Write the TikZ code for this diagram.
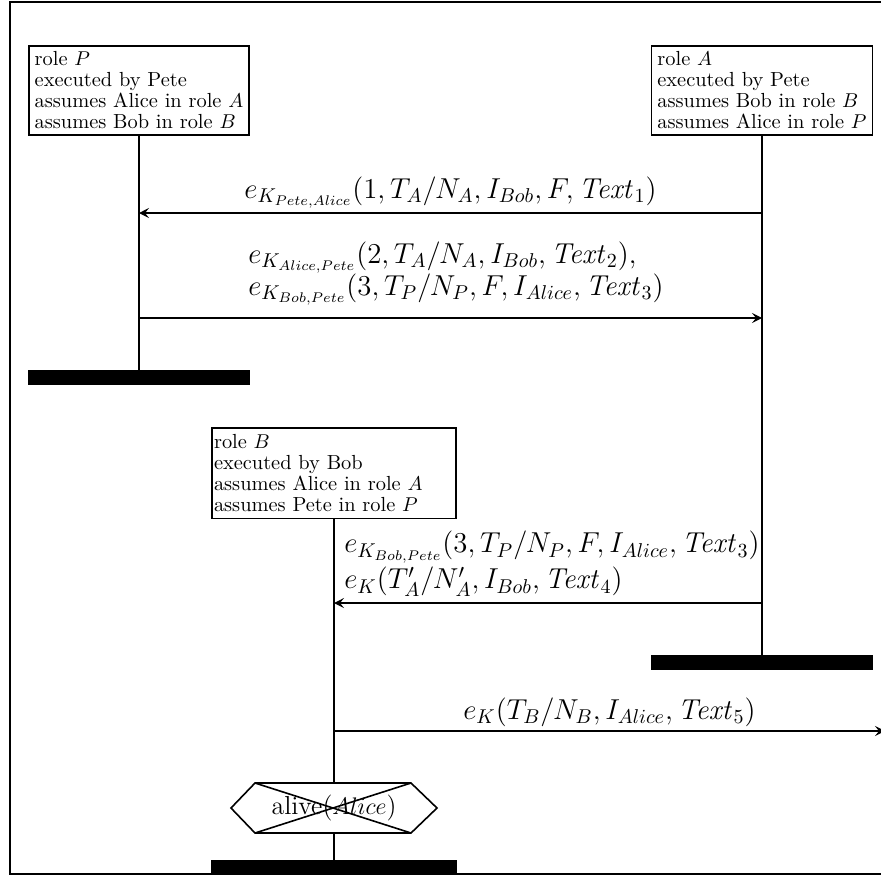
\documentclass[tikz,border=0pt]{standalone}
\usepackage{amsmath, amssymb}
\usepackage{tikz}
\usetikzlibrary{calc, positioning, arrows.meta}

\tikzset{
    headbox/.style={draw, line width=0.8pt, align=left, anchor=north, inner sep=3pt,
        font=\fontsize{10.2}{10.5}\selectfont},
    msglabel/.style={align=left, inner sep=2pt, font=\fontsize{14}{16}\selectfont},
    lifeline/.style={line width=0.9pt},
    msg/.style={-{Stealth[length=5pt, width=5pt, inset=2pt]}, line width=0.6pt},
}

\begin{document}
\begin{tikzpicture}[x=0.5pt, y=-0.5pt]
    \useasboundingbox (0,0) rectangle (881,878);

    % =================================================================
    % KHUNG NGOAI
    % =================================================================
    \draw[line width=0.8pt] (10,2) rectangle (885,874);

    % =================================================================
    % DAU CAC INSTANCE
    % =================================================================
    \node[headbox] (headP) at (139,45) {role $P$\\executed by Pete\\assumes Alice in role $A$\\assumes Bob in role $B$};
    \node[headbox] (headA) at (762,45) {role $A$\\executed by Pete\\assumes Bob in role $B$\\assumes Alice in role $P$};
    \node[headbox, inner xsep=1pt, inner ysep=3.3pt, text width=120pt] (headB) at (334,427)
        {role $B$\\executed by Bob\\assumes Alice in role $A$\\assumes Pete in role $P$};

    % Diem ket thuc cua cac duong song
    \coordinate (endP) at (headP |- 0,370);
    \coordinate (endA) at (headA |- 0,655);
    \coordinate (endB) at (headB |- 0,860);

    % Duong song P va A
    \draw[lifeline] (headP.south) -- (endP);
    \draw[lifeline] (headA.south) -- (endA);

    % Thanh ket thuc (den)
    \fill (headP.west |- endP) rectangle ($(headP.east |- endP)+(0,15)$);
    \fill (headA.west |- endA) rectangle ($(headA.east |- endA)+(0,15)$);
    \fill (headB.west |- endB) rectangle ($(headB.east |- endB)+(0,15)$);

    % =================================================================
    % DIEU KIEN alive(Alice) BI GACH CHEO
    % =================================================================
    \node[msglabel, font=\fontsize{13}{16}\selectfont] (cond) at (334,808) {alive($Alice$)};
    \path (cond) +(-103,0) coordinate (hL) +(-79,-25) coordinate (hTL)
                 +(77,-25) coordinate (hTR) +(103,0) coordinate (hR)
                 +(77,25) coordinate (hBR) +(-79,25) coordinate (hBL);
    \draw[line width=0.8pt] (hL) -- (hTL) -- (hTR) -- (hR) -- (hBR) -- (hBL) -- cycle;
    \draw[line width=0.8pt] (hTL) -- (hBR);
    \draw[line width=0.8pt] (hBL) -- (hTR);

    % Duong song B, ngat qua dieu kien
    \draw[lifeline] (headB.south) -- (headB |- hTL);
    \draw[lifeline] (headB |- hBL) -- (endB);

    % =================================================================
    % CAC THONG DIEP
    % =================================================================
    \draw[msg] (headA |- 0,213) -- node[msglabel, above] (lab1)
        {$e_{K_{Pete,Alice}}(1, T_A/N_A, I_{Bob}, F, \mathit{Text}_1)$} (headP |- 0,213);

    \draw[msg] (headP |- 0,318) -- (headA |- 0,318);
    \node[msglabel, above right] (lab2) at ($(headP |- 0,318)+(105,-8)$)
        {$e_{K_{Alice,Pete}}(2, T_A/N_A, I_{Bob}, \mathit{Text}_2)$,\\
         $e_{K_{Bob,Pete}}(3, T_P/N_P, F, I_{Alice}, \mathit{Text}_3)$};

    \draw[msg] (headA |- 0,603) -- (headB |- 0,603);
    \node[msglabel, above right] (lab3) at ($(headB |- 0,603)+(6,-2)$)
        {$e_{K_{Bob,Pete}}(3, T_P/N_P, F, I_{Alice}, \mathit{Text}_3)$\\[2pt]
         $e_K(T'_A/N'_A, I_{Bob}, \mathit{Text}_4)$};

    % Thong diep ra moi truong (bien phai cua khung)
    \coordinate (envR) at (885,731);
    \draw[msg] (headB |- envR) -- node[msglabel, above] (lab4)
        {$e_K(T_B/N_B, I_{Alice}, \mathit{Text}_5)$} (envR);

\end{tikzpicture}
\end{document}
